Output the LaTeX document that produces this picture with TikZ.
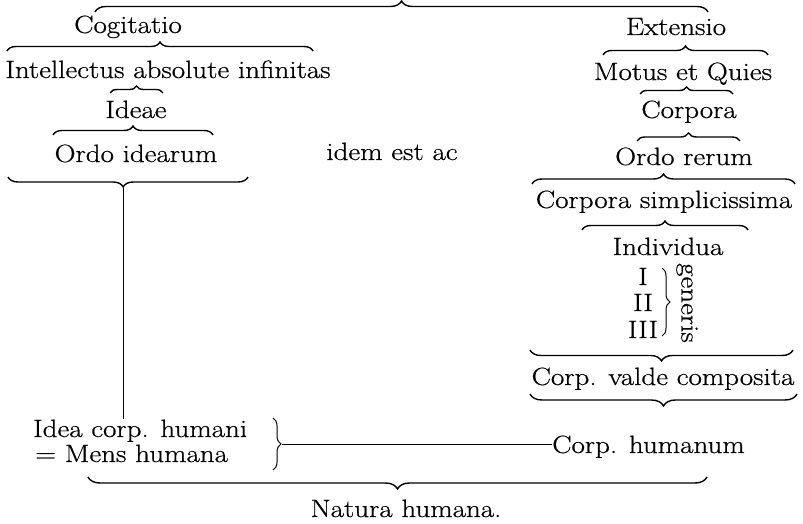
\documentclass[tikz,border=0pt]{standalone}
\usepackage{fontspec}
\setmainfont{Latin Modern Roman}[FakeStretch=1.16,FakeBold=0.6]
\usetikzlibrary{decorations.pathreplacing}
\begin{document}
\begin{tikzpicture}[x=1pt,y=-1pt,
  lbl/.style={inner sep=0pt,anchor=base,font=\fontsize{25}{30}\selectfont},
  brc/.style={decorate,decoration={brace,amplitude=#1},line width=1.4pt},
  brc/.default=9,
  thinline/.style={line width=0.7pt}]
\useasboundingbox[fill=white] (0,0) rectangle (803,524);
% texts
\node[lbl] (cog) at (128,33) {Cogitatio};
\node[lbl] (ext) at (676,35) {Extensio};
\node[lbl] (intel) at (168,78) {Intellectus absolute infinitas};
\node[lbl] (motus) at (683,80) {Motus et Quies};
\node[lbl] (ideae) at (136,118) {Ideae};
\node[lbl] (corpora) at (689,118) {Corpora};
\node[lbl] (ordoid) at (136,162) {Ordo idearum};
\node[lbl] (idem) at (392,160) {idem est ac};
\node[lbl] (ordore) at (684,165) {Ordo rerum};
\node[lbl] (simpl) at (664,208) {Corpora simplicissima};
\node[lbl] (indiv) at (668,255) {Individua};
\node[lbl] (g1) at (643,285) {I};
\node[lbl] (g2) at (643,311) {II};
\node[lbl] (g3) at (643,338) {III};
\node[lbl,anchor=center,rotate=-90] (gen) at (687,303) {generis};
\node[lbl] (valde) at (663,385) {Corp. valde composita};
\node[lbl,anchor=base west] (idea) at (33,437) {Idea corp. humani};
\node[lbl,anchor=base west] (mens) at (35,462) {= Mens humana};
\node[lbl,anchor=base west] (humanum) at (552,453) {Corp. humanum};
\node[lbl] (natura) at (406,517) {Natura humana.};
% braces
\draw[brc=11] (95,12) -- (708,12);
\draw[brc] (7,51) -- (313,51);
\draw[brc] (603,55) -- (768,55);
\draw[brc=7] (110,93) -- (163,93);
\draw[brc=7] (640,94) -- (733,94);
\draw[brc] (53,135) -- (213,135);
\draw[brc=8] (637,141) -- (740,141);
\draw[decorate,decoration={brace,amplitude=10,aspect=0.52},line width=1.4pt] (248,177) -- (8,177);
\coordinate (tip8) at (123,188);
\draw[brc=10] (532,184) -- (795,184);
\draw[brc] (582,230) -- (748,230);
\draw[brc=8,line width=1pt] (662,268) -- (662,336);
\draw[brc=11] (793,350) -- (530,350);
\draw[brc=12] (797,394) -- (530,394);
\draw[brc=8,line width=1pt] (273,418) -- (273,470);
\coordinate (tip14) at (282,444);
\draw[brc=12] (707,477) -- (88,477);
% lines
\draw[thinline] (tip8) -- (tip8 |- idea.north);
\draw[thinline] (tip14) -- (tip14 -| humanum.west);
\end{tikzpicture}
\end{document}
